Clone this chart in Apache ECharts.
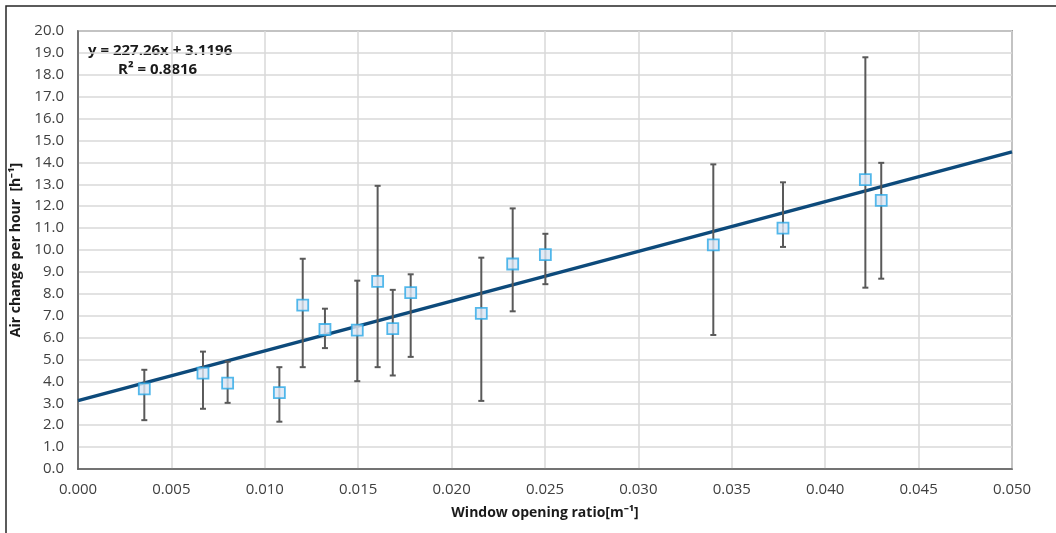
<!DOCTYPE html>
<html>
<head>
<meta charset="utf-8">
<script src="https://cdn.jsdelivr.net/npm/echarts@6/dist/echarts.min.js"></script>
<style>
  html, body { margin: 0; padding: 0; background: #fff; }
  #chart { width: 1056px; height: 533px; }
</style>
</head>
<body>
<div id="chart"></div>
<script>
// 窗户开口比 (x) 与换气次数 (y)
var ratioData = [0.00355, 0.00669, 0.00801, 0.01078, 0.01203, 0.01322, 0.01495, 0.01604, 0.01685,
	0.01781, 0.02159, 0.02327, 0.02502, 0.03401, 0.03774, 0.04215, 0.04300];
var achData = [3.66, 4.38, 3.92, 3.49, 7.48, 6.37, 6.34, 8.57, 6.41,
	8.05, 7.11, 9.36, 9.79, 10.23, 11.00, 13.21, 12.27];
var achHigh = [4.53, 5.36, 4.90, 4.65, 9.60, 7.32, 8.60, 12.93, 8.18,
	8.89, 9.65, 11.90, 10.74, 13.91, 13.09, 18.80, 13.98];
var achLow = [2.23, 2.75, 3.02, 2.16, 4.65, 5.52, 4.01, 4.65, 4.27,
	5.12, 3.11, 7.20, 8.44, 6.12, 10.14, 8.28, 8.69];
// 趋势线两端
var trendX = [0, 0.05];
var trendY = [3.12, 14.48];

var fontName = "'Open Sans', 'Liberation Sans', sans-serif";

var pointList = [];
var barList = [];
for (var i = 0; i < ratioData.length; i++) {
	pointList.push([ratioData[i], achData[i]]);
	barList.push([ratioData[i], achLow[i], achHigh[i]]);
}
var trendList = [];
for (var j = 0; j < trendX.length; j++) {
	trendList.push([trendX[j], trendY[j]]);
}

function renderErrorBar(params, api) {
	var low = api.coord([api.value(0), api.value(1)]);
	var high = api.coord([api.value(0), api.value(2)]);
	var capW = 3;
	var style = { stroke: '#595959', lineWidth: 2 };
	return {
		type : 'group',
		children : [
			{ type : 'line', shape : { x1 : high[0], y1 : high[1], x2 : low[0], y2 : low[1] }, style : style },
			{ type : 'line', shape : { x1 : high[0] - capW, y1 : high[1], x2 : high[0] + capW, y2 : high[1] }, style : style },
			{ type : 'line', shape : { x1 : low[0] - capW, y1 : low[1], x2 : low[0] + capW, y2 : low[1] }, style : style }
		]
	};
}

var option = {
	backgroundColor : '#fff',
	animation : false,
	graphic : [
		{
			type : 'rect',
			shape : { x : 6, y : 6, width : 1060, height : 540 },
			style : { fill : 'none', stroke : '#262626', lineWidth : 1.5 },
			silent : true
		},
		{
			type : 'text',
			left : 88, top : 43,
			style : { text : 'y = 227.26x + 3.1196', font : 'bold 15px ' + fontName, fill : '#1a1a1a' }
		},
		{
			type : 'text',
			left : 118, top : 62,
			style : { text : 'R² = 0.8816', font : 'bold 15px ' + fontName, fill : '#1a1a1a' }
		}
	],
	grid : {
		left : 78,
		right : 44,
		top : 31,
		bottom : 64,
		show : true,
		borderColor : '#595959',
		borderWidth : 1.5
	},
	xAxis : {
		type : 'value',
		min : 0,
		max : 0.05,
		interval : 0.005,
		name : 'Window opening ratio[m⁻¹]',
		nameLocation : 'middle',
		nameGap : 37,
		nameTextStyle : { fontFamily : fontName, fontWeight : 'bold', fontSize : 14, color : '#1a1a1a' },
		axisLine : { show : true, lineStyle : { color : '#595959', width : 1.5 } },
		axisTick : { show : false },
		axisLabel : {
			fontFamily : fontName, fontSize : 15, color : '#404040', margin : 13,
			formatter : function(v) { return v.toFixed(3); }
		},
		splitLine : { show : true, lineStyle : { color : '#d9d9d9', width : 1.5 } }
	},
	yAxis : {
		type : 'value',
		min : 0,
		max : 20,
		interval : 1,
		name : 'Air change per hour  [h⁻¹]',
		nameLocation : 'middle',
		nameGap : 52,
		nameTextStyle : { fontFamily : fontName, fontWeight : 'bold', fontSize : 14, color : '#1a1a1a' },
		axisLine : { show : true, lineStyle : { color : '#595959', width : 1.5 } },
		axisTick : { show : false },
		axisLabel : {
			fontFamily : fontName, fontSize : 15, color : '#404040', margin : 14,
			formatter : function(v) { return v.toFixed(1); }
		},
		splitLine : { show : true, lineStyle : { color : '#d9d9d9', width : 1.5 } }
	},
	series : [
		{
			name : 'trend',
			type : 'line',
			data : trendList,
			symbol : 'none',
			lineStyle : { color : '#0d4a7b', width : 3.5 },
			z : 2
		},
		{
			name : 'error',
			type : 'custom',
			data : barList,
			renderItem : renderErrorBar,
			encode : { x : 0, y : [1, 2] },
			z : 3
		},
		{
			name : 'ACH',
			type : 'scatter',
			data : pointList,
			symbol : 'rect',
			symbolSize : 11,
			itemStyle : { color : '#dbe6f5', borderColor : '#2aa7e6', borderWidth : 1.8 },
			z : 4
		}
	]
};

var myChart = echarts.init(document.getElementById('chart'));
myChart.setOption(option, true);
</script>
</body>
</html>
